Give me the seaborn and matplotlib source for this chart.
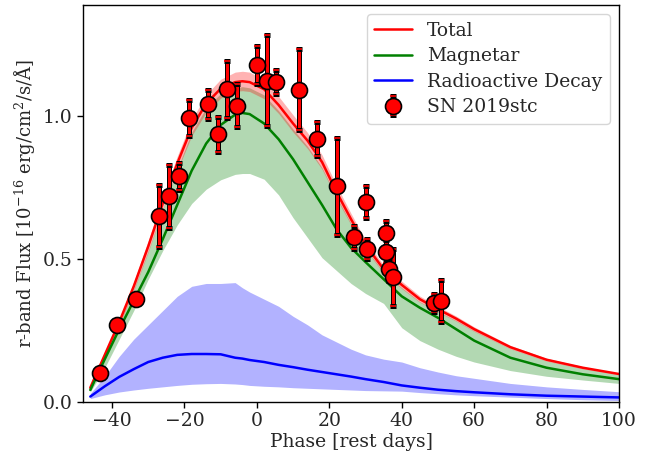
import numpy as np
import pandas as pd
import matplotlib
matplotlib.use("Agg")
import matplotlib.pyplot as plt
import matplotlib.patheffects as pe
import seaborn as sns

# ---- model grid (phase, rest days) ----
phase = [-46, -42, -38, -34, -30, -26, -22, -18, -14, -10, -6, -4, -2, 2, 6, 10, 14, 18,
         22, 26, 30, 35, 40, 45, 50, 55, 60, 70, 80, 90, 100]

total = [0.05, 0.165, 0.28, 0.405, 0.545, 0.695, 0.835, 0.96, 1.045, 1.097, 1.12, 1.123,
         1.12, 1.095, 1.04, 0.975, 0.915, 0.84, 0.735, 0.64, 0.55, 0.465, 0.41, 0.36,
         0.325, 0.292, 0.255, 0.192, 0.148, 0.12, 0.098]
total_lo = [0.046, 0.158, 0.27, 0.39, 0.525, 0.672, 0.81, 0.932, 1.014, 1.064, 1.088, 1.09,
            1.087, 1.062, 1.01, 0.945, 0.887, 0.815, 0.712, 0.62, 0.533, 0.451, 0.397,
            0.349, 0.315, 0.283, 0.247, 0.186, 0.143, 0.116, 0.095]
total_hi = [0.054, 0.172, 0.29, 0.42, 0.565, 0.718, 0.86, 0.988, 1.076, 1.13, 1.155, 1.158,
            1.155, 1.128, 1.07, 1.005, 0.943, 0.865, 0.758, 0.66, 0.567, 0.479, 0.423,
            0.371, 0.335, 0.301, 0.263, 0.198, 0.153, 0.124, 0.101]

magnetar = [0.042, 0.15, 0.255, 0.355, 0.455, 0.57, 0.69, 0.81, 0.905, 0.97, 1.006, 1.012,
            1.008, 0.975, 0.92, 0.85, 0.77, 0.69, 0.605, 0.54, 0.49, 0.43, 0.37, 0.33,
            0.295, 0.255, 0.215, 0.155, 0.12, 0.097, 0.08]
magnetar_lo = [0.035, 0.12, 0.22, 0.32, 0.43, 0.53, 0.62, 0.695, 0.745, 0.778, 0.797, 0.80,
               0.80, 0.78, 0.725, 0.645, 0.575, 0.505, 0.46, 0.415, 0.38, 0.345, 0.26,
               0.215, 0.185, 0.16, 0.14, 0.11, 0.09, 0.077, 0.065]
magnetar_hi = [0.048, 0.162, 0.275, 0.395, 0.53, 0.675, 0.815, 0.945, 1.03, 1.08, 1.10,
               1.104, 1.10, 1.075, 1.02, 0.955, 0.895, 0.82, 0.718, 0.625, 0.537, 0.455,
               0.40, 0.351, 0.317, 0.285, 0.249, 0.187, 0.144, 0.117, 0.095]

radioactive = [0.019, 0.055, 0.088, 0.115, 0.14, 0.155, 0.165, 0.168, 0.168, 0.167, 0.155,
               0.152, 0.147, 0.14, 0.13, 0.122, 0.113, 0.105, 0.097, 0.089, 0.08, 0.07,
               0.058, 0.05, 0.043, 0.038, 0.034, 0.027, 0.022, 0.019, 0.016]
radioactive_lo = [0.012, 0.025, 0.035, 0.042, 0.048, 0.053, 0.058, 0.062, 0.064, 0.065,
                  0.063, 0.061, 0.058, 0.055, 0.053, 0.05, 0.048, 0.046, 0.044, 0.042,
                  0.04, 0.039, 0.038, 0.033, 0.029, 0.025, 0.022, 0.017, 0.012, 0.008, 0.005]
radioactive_hi = [0.03, 0.09, 0.16, 0.22, 0.27, 0.32, 0.37, 0.405, 0.415, 0.415, 0.418,
                  0.40, 0.385, 0.36, 0.335, 0.30, 0.27, 0.235, 0.21, 0.185, 0.165, 0.15,
                  0.14, 0.12, 0.105, 0.092, 0.083, 0.065, 0.053, 0.044, 0.036]

# ---- observations: SN 2019stc ----
obs_phase = [-43.2, -38.6, -33.4, -27.0, -24.3, -21.6, -18.8, -13.6, -10.8, -8.2, -5.4,
             0.0, 2.7, 5.2, 11.6, 16.7, 22.2, 26.8, 30.1, 30.3, 35.6, 35.6, 36.5, 37.5,
             48.9, 50.9]
obs_flux = [0.100, 0.268, 0.359, 0.651, 0.720, 0.790, 0.995, 1.042, 0.937, 1.095, 1.038,
            1.179, 1.125, 1.122, 1.094, 0.920, 0.756, 0.576, 0.700, 0.535, 0.590, 0.526,
            0.464, 0.436, 0.347, 0.354]
obs_err = [0.01, 0.01, 0.01, 0.11, 0.11, 0.047, 0.063, 0.05, 0.062, 0.10, 0.075, 0.067,
           0.16, 0.042, 0.143, 0.06, 0.17, 0.04, 0.056, 0.036, 0.045, 0.04, 0.04, 0.10,
           0.031, 0.074]

model = pd.DataFrame({"phase": phase, "total": total, "magnetar": magnetar,
                      "radioactive": radioactive})

sns.set_style("ticks")
plt.rcParams["font.family"] = ["DejaVu Serif"]
plt.rcParams["mathtext.fontset"] = "dejavuserif"

fig = plt.figure(figsize=(6.54, 4.55), dpi=100)
ax = fig.add_axes([0.127, 0.1165, 0.8195, 0.8725])

ax.fill_between(phase, radioactive_lo, radioactive_hi, color="blue", alpha=0.3, lw=0)
ax.fill_between(phase, magnetar_lo, magnetar_hi, color="green", alpha=0.3, lw=0)
ax.fill_between(phase, total_lo, total_hi, color="red", alpha=0.3, lw=0)

sns.lineplot(data=model, x="phase", y="total", color="red", lw=1.8, label="Total", ax=ax)
sns.lineplot(data=model, x="phase", y="magnetar", color="green", lw=1.8, label="Magnetar", ax=ax)
sns.lineplot(data=model, x="phase", y="radioactive", color="blue", lw=1.8,
             label="Radioactive Decay", ax=ax)

eb = ax.errorbar(obs_phase, obs_flux, yerr=obs_err, fmt="o", color="red", ms=11.5,
                 mec="black", mew=1.2, ecolor="red", elinewidth=2.2, capsize=2.2,
                 capthick=2.2, label="SN 2019stc", zorder=5)
stroke = [pe.Stroke(linewidth=3.6, foreground="black"), pe.Normal()]
for c in eb[1]:
    c.set_path_effects(stroke)
for c in eb[2]:
    c.set_path_effects(stroke)

ax.set_xlim(-48, 100)
ax.set_ylim(0, 1.39)
ax.set_xticks([-40, -20, 0, 20, 40, 60, 80, 100])
ax.set_yticks([0.0, 0.5, 1.0])
ax.tick_params(labelsize=13.5, direction="out", length=4, width=1, color="black")
for s in ax.spines.values():
    s.set_color("black")
    s.set_linewidth(1)
ax.set_xlabel("Phase [rest days]", fontsize=13.5, labelpad=2)
ax.set_ylabel(r"r-band Flux [$10^{-16}$ erg/cm$^{2}$/s/Å]", fontsize=13)

leg = ax.legend(loc="upper right", fontsize=13.5, frameon=True, fancybox=True,
                framealpha=0.8, borderpad=0.4, handlelength=2.0, labelspacing=0.4)
leg.get_frame().set_edgecolor("#cccccc")

fig.savefig("out.png", dpi=100)
